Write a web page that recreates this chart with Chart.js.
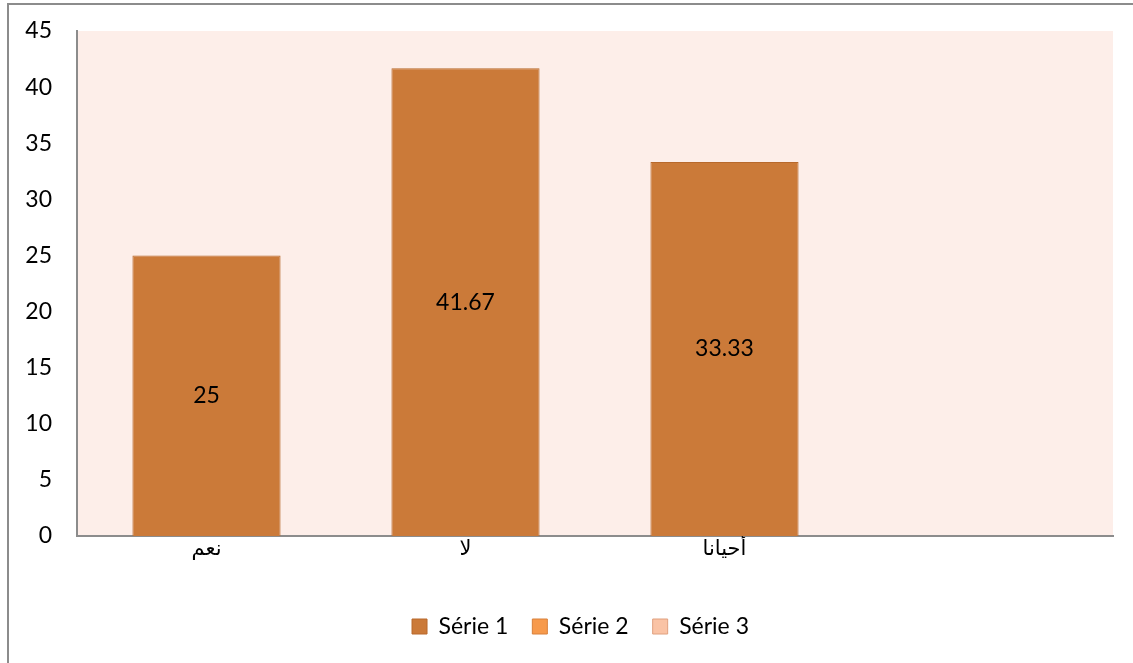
<!DOCTYPE html>
<html>
<head>
<meta charset="utf-8">
<script src="https://cdn.jsdelivr.net/npm/chart.js@4"></script>
<style>
  html, body { margin: 0; padding: 0; background: #ffffff; overflow: hidden; }
  #wrap { position: relative; width: 1133px; height: 663px; }
  #frame {
    position: absolute; left: 7px; top: 3px; width: 1200px; height: 700px;
    border-left: 2px solid #8c8c8c; border-top: 2px solid #8c8c8c;
    box-sizing: border-box; pointer-events: none;
  }
  canvas { position: absolute; left: 0; top: 0; }
</style>
</head>
<body>
<div id="wrap">
  <canvas id="chart" width="1133" height="663"></canvas>
  <div id="frame"></div>
</div>
<script>
const categories = ['نعم', 'لا', 'أحيانا', ''];
const serie1 = [25, 41.67, 33.33, null];
const serie2 = [null, null, null, null];
const serie3 = [null, null, null, null];
const seriesNames = ['Série 1', 'Série 2', 'Série 3'];
const yTicks = [0, 5, 10, 15, 20, 25, 30, 35, 40, 45];

const FONT = 'Lato, "DejaVu Sans", sans-serif';

const plotBackground = {
    id: 'plotBackground',
    beforeDraw(chart) {
        const { ctx, chartArea } = chart;
        ctx.save();
        ctx.fillStyle = '#fdeee9';
        ctx.fillRect(chartArea.left, chartArea.top, chartArea.right - chartArea.left, chartArea.bottom - chartArea.top);
        ctx.restore();
    }
};

const valueLabels = {
    id: 'valueLabels',
    afterDatasetsDraw(chart) {
        const ctx = chart.ctx;
        const meta = chart.getDatasetMeta(0);
        ctx.save();
        ctx.fillStyle = '#000000';
        ctx.font = '23px ' + FONT;
        ctx.textAlign = 'center';
        ctx.textBaseline = 'middle';
        meta.data.forEach(function (bar, i) {
            const v = serie1[i];
            if (v === null) return;
            ctx.fillText(String(v), bar.x, (bar.y + bar.base) / 2);
        });
        ctx.restore();
    }
};

// legend in the original sits a bit right of the plot centre
const legendShift = {
    id: 'legendShift',
    afterLayout(chart) {
        chart.legend.left += 24;
        chart.legend.right += 24;
    }
};

function initializeChart() {
    const canvas = document.getElementById('chart');

    const data = {
        labels: categories,
        datasets: [{
            label: seriesNames[0],
            data: serie1,
            backgroundColor: '#cb7a39',
            borderColor: '#b8692c',
            borderWidth: 1
        }, {
            label: seriesNames[1],
            data: serie2,
            backgroundColor: '#f79a4c',
            borderColor: '#d9803a',
            borderWidth: 1
        }, {
            label: seriesNames[2],
            data: serie3,
            backgroundColor: '#fac3a5',
            borderColor: '#e0a07f',
            borderWidth: 1
        }]
    };

    const options = {
        responsive: false,
        animation: false,
        skipNull: true,
        categoryPercentage: 1,
        barPercentage: 0.572,
        layout: {
            padding: { left: 0, right: 20, top: 31, bottom: 15 }
        },
        plugins: {
            tooltip: { enabled: false },
            legend: {
                position: 'bottom',
                labels: {
                    color: '#000000',
                    font: { family: FONT, size: 23 },
                    boxWidth: 15,
                    boxHeight: 15,
                    padding: 24,
                    generateLabels(chart) {
                        return chart.data.datasets.map(function (ds, i) {
                            return {
                                text: ds.label,
                                fillStyle: ds.backgroundColor,
                                strokeStyle: ds.borderColor,
                                lineWidth: 1,
                                datasetIndex: i,
                                fontColor: '#000000'
                            };
                        });
                    }
                }
            }
        },
        scales: {
            x: {
                grid: { display: false, drawTicks: false },
                border: { display: true, color: '#8c8c8c', width: 2 },
                ticks: {
                    color: '#000000',
                    font: { family: FONT, size: 21 },
                    padding: 0,
                    maxRotation: 0
                },
                afterFit(scale) { scale.height = 55; }
            },
            y: {
                min: 0,
                max: 45,
                afterBuildTicks(scale) {
                    scale.ticks = yTicks.map(function (v) { return { value: v }; });
                },
                grid: { display: false, drawTicks: false },
                border: { display: true, color: '#8c8c8c', width: 2 },
                ticks: {
                    color: '#000000',
                    // small lineHeight keeps the label padding from pushing the plot down
                    font: { family: FONT, size: 23, lineHeight: 0.5 },
                    padding: 25
                },
                afterFit(scale) { scale.width = 77; }
            }
        }
    };

    new Chart(canvas, {
        type: 'bar',
        data: data,
        options: options,
        plugins: [plotBackground, valueLabels, legendShift]
    });
}

window.addEventListener('load', initializeChart);
</script>
</body>
</html>
